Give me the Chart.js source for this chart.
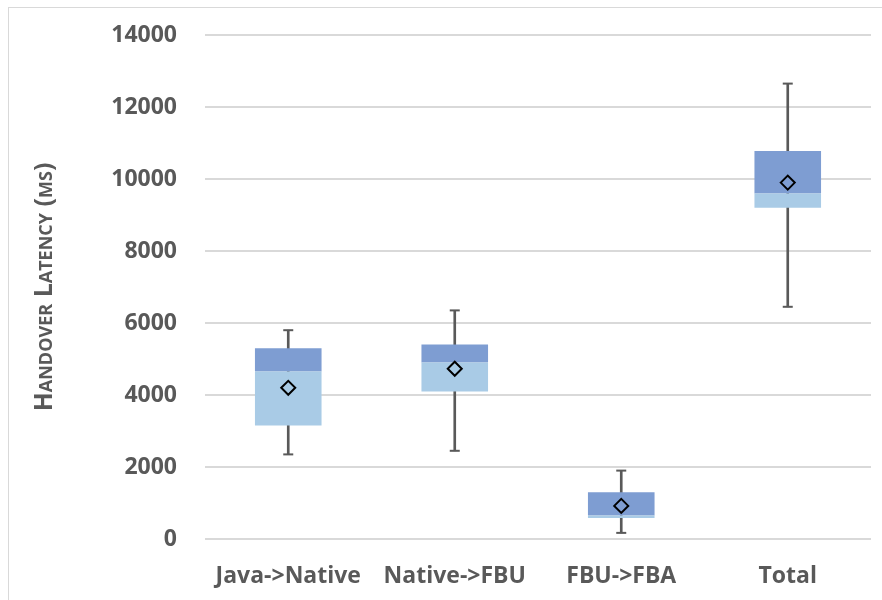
<!DOCTYPE html>
<html>
<head>
<meta charset="utf-8">
<script src="https://cdn.jsdelivr.net/npm/chart.js@4.4.1/dist/chart.umd.min.js"></script>
<style>
  html, body { margin: 0; padding: 0; background: #fff; }
  #wrap { position: relative; width: 882px; height: 600px; overflow: hidden; }
  #frame { position: absolute; left: 8px; top: 7px; width: 900px; height: 620px; border: 1px solid #d9d9d9; box-sizing: border-box; }
  canvas { position: absolute; left: 0; top: 0; }
</style>
</head>
<body>
<div id="wrap">
  <div id="frame"></div>
  <canvas id="latencyChart" width="882" height="600"></canvas>
</div>
<script>
// Box plot data (ms)
const categories = ["Java->Native", "Native->FBU", "FBU->FBA", "Total"];
const whiskerMin = [2350, 2450, 170, 6450];
const quartile1 = [3150, 4100, 580, 9200];
const medians = [4650, 4900, 650, 9600];
const quartile3 = [5300, 5400, 1300, 10780];
const whiskerMax = [5800, 6350, 1900, 12650];
const means = [4200, 4730, 920, 9900];
const yTicks = [0, 2000, 4000, 6000, 8000, 10000, 12000, 14000];
const yTitle = "Handover Latency (ms)";

const textColor = "#595959";
const fontFamily = "'Open Sans', Lato, sans-serif";

const lowerBox = categories.map((c, i) => [quartile1[i], medians[i]]);
const upperBox = categories.map((c, i) => [medians[i], quartile3[i]]);
const whiskers = categories.map((c, i) => [whiskerMin[i], whiskerMax[i]]);

// Axis title in small caps (Chart.js font options don't allow font-variant)
const smallCapsTitle = {
  id: "smallCapsTitle",
  afterDraw(chart) {
    const c = chart.ctx;
    const area = chart.chartArea;
    c.save();
    c.translate(45, (area.top + area.bottom) / 2);
    c.rotate(-Math.PI / 2);
    c.font = "small-caps 700 25px " + fontFamily;
    c.fillStyle = textColor;
    c.textAlign = "center";
    c.textBaseline = "middle";
    c.fillText(yTitle, 0, 0);
    c.restore();
  },
};

const ctx = document.getElementById("latencyChart").getContext("2d");

new Chart(ctx, {
  type: "bar",
  data: {
    labels: categories,
    datasets: [
      {
        label: "whisker",
        data: whiskers,
        backgroundColor: textColor,
        barThickness: 2,
        grouped: false,
        order: 5,
      },
      {
        label: "Q1-Median",
        data: lowerBox,
        backgroundColor: "#a9cbe6",
        barPercentage: 0.4,
        categoryPercentage: 1.0,
        grouped: false,
        order: 3,
      },
      {
        label: "Median-Q3",
        data: upperBox,
        backgroundColor: "#7e9dd2",
        barPercentage: 0.4,
        categoryPercentage: 1.0,
        grouped: false,
        order: 3,
      },
      {
        type: "line",
        label: "min",
        data: whiskerMin,
        showLine: false,
        pointStyle: "line",
        pointRadius: 5,
        borderColor: textColor,
        borderWidth: 2,
        order: 2,
      },
      {
        type: "line",
        label: "max",
        data: whiskerMax,
        showLine: false,
        pointStyle: "line",
        pointRadius: 5,
        borderColor: textColor,
        borderWidth: 2,
        order: 2,
      },
      {
        type: "line",
        label: "mean",
        data: means,
        showLine: false,
        pointStyle: "rectRot",
        pointRadius: 7,
        pointBackgroundColor: "rgba(0,0,0,0)",
        pointBorderColor: "#000000",
        pointBorderWidth: 2,
        order: 1,
      },
    ],
  },
  options: {
    responsive: false,
    animation: false,
    layout: {
      padding: { left: 0, right: 11, top: 35, bottom: 0 },
    },
    plugins: {
      legend: { display: false },
      tooltip: { enabled: false },
    },
    scales: {
      x: {
        offset: true,
        grid: { display: false, drawTicks: false },
        border: { display: false },
        ticks: {
          color: textColor,
          padding: 24,
          font: { family: fontFamily, size: 23, weight: "bold" },
          maxRotation: 0,
        },
        afterFit: function (scale) {
          scale.height = 61;
        },
      },
      y: {
        min: 0,
        max: 14000,
        afterBuildTicks: function (scale) {
          scale.ticks = yTicks.map((v) => ({ value: v }));
        },
        grid: { color: "#d9d9d9", lineWidth: 2, drawTicks: false },
        border: { display: false },
        ticks: {
          color: textColor,
          padding: 28,
          font: { family: fontFamily, size: 23, weight: "bold" },
          callback: function (value) {
            return String(value);
          },
        },
        afterFit: function (scale) {
          scale.width = 205;
          // tick padding would otherwise be added above the top label
          scale.paddingTop = 0;
          scale.paddingBottom = 0;
        },
      },
    },
  },
  plugins: [smallCapsTitle],
});
</script>
</body>
</html>
